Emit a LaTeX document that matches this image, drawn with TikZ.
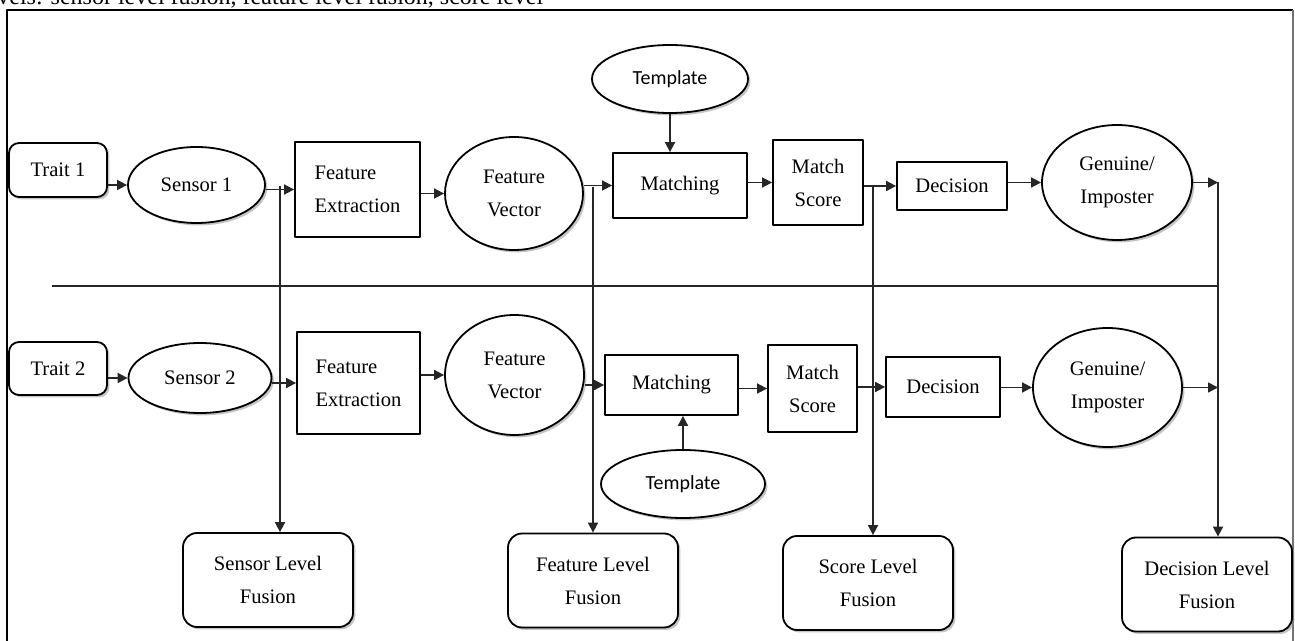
\documentclass[tikz,border=0pt]{standalone}
\usepackage{fontspec}
\setmainfont{Liberation Serif}
\newfontfamily\tplfont{Carlito}
\usetikzlibrary{shapes.geometric,shadows,arrows.meta}

\begin{document}
\begin{tikzpicture}[x=0.5pt,y=-0.5pt,font=\fontsize{10.3}{16.5}\selectfont,line join=round,
	>={Triangle[length=5pt,width=5pt]},
	wh/.style 2 args={minimum width=#1pt,minimum height=#2pt},
	bx/.style={draw,line width=0.9pt,inner sep=2pt,align=center,fill=white},
	shd/.style={drop shadow={shadow xshift=1.2pt,shadow yshift=-1.2pt,fill=black!45}},
	rbx/.style={bx,shd,rounded corners=5pt},
	fus/.style={bx,shd,rounded corners=7pt,wh={85}{47}},
	elp/.style={bx,shd,ellipse},
	tpl/.style={elp,font=\tplfont\fontsize{10}{12}\selectfont},
	ln/.style={line width=0.85pt,black!85},
	ar/.style={ln,->}]
	\useasboundingbox (0,0) rectangle (1295,641);
	\begin{scope}
	\clip (0,0) rectangle (1295,641);
	\node[anchor=base west,inner sep=0,font=\fontsize{12}{14}\selectfont](cap) at (-3,5)
	{vels: sensor level fusion, feature level fusion, score level};
	\end{scope}
	\draw[line width=1.1pt] (7,641)--(7,10)--(1293,10);
	\draw[line width=0.6pt,black!55] (1293,10)--(1293,641);
	% first trait
	\path (58,170)node[rbx,wh={49}{27}](t1){Trait 1}
	++(138.5,15)node[elp,wh={68.5}{38}](s1){Sensor 1}
	++(161,4.5)node[bx,wh={62.5}{47.5},align=left](fe1){Feature\\Extraction}
	++(156.5,4)node[elp,wh={69}{56.5}](fv1){Feature\\Vector}
	++(166,-8)node[bx,wh={67}{32.5}](m1){Matching}
	++(138,-3)node[bx,wh={45}{42.5}](ms1){Match\\Score}
	++(134,3.5)node[bx,wh={55}{24}](d1){Decision}
	++(165,-3.5)node[elp,wh={75}{57.5}](g1){Genuine/\\Imposter}
	(m1)++(-10,-106.5)node[tpl,wh={78}{34}](tp1){Template}
	;
	% second trait
	\path (58,368.5)node[rbx,wh={49}{26.5}](t2){Trait 2}
	++(142,9.5)node[elp,wh={71.5}{35}](s2){Sensor 2}
	++(158.5,5)node[bx,wh={61.5}{51},align=left](fe2){Feature\\Extraction}
	++(156,-8)node[elp,wh={69.5}{60}](fv2){Feature\\Vector}
	++(157,10)node[bx,wh={66.5}{30}](m2){Matching}
	++(141,3.5)node[bx,wh={44.5}{43.5}](ms2){Match\\Score}
	++(130.5,-1.5)node[bx,wh={57}{30}](d2){Decision}
	++(164.5,0.5)node[elp,wh={74.5}{59.5}](g2){Genuine/\\Imposter}
	(m2)++(11.5,99)node[tpl,wh={82}{34}](tp2){Template}
	;
	% fusion levels
	\path (268,580)node[fus](slf){Sensor Level\\Fusion}
	++(325,0.5)node[fus](flf){Feature Level\\Fusion}
	++(275,2.5)node[fus](sclf){Score Level\\Fusion}
	++(339,1.5)node[fus](dlf){Decision Level\\Fusion}
	;
	\coordinate (j1) at (280,186);
	\coordinate (j2) at (593,187);
	\coordinate (j3) at (873,187);
	\coordinate (j4) at (1218,182);
	\coordinate (sep) at (52,286);
	\draw[ln] (sep)--(sep-|j4);
	\draw[ar] (t1.east|-s1.west)--(s1.west);
	\draw[ar] (s1.east|-fe1.west)--(fe1.west);
	\draw[ar] (fe1.east|-fv1.west)--(fv1.west);
	\draw[ar] (fv1.east|-m1.west)--(m1.west);
	\draw[ar] (m1.east|-ms1.west)--(ms1.west);
	\draw[ar] (ms1.east|-d1.west)--(d1.west);
	\draw[ar] (d1.east|-g1.west)--(g1.west);
	\draw[ar] (g1.east)--(g1.east-|j4);
	\draw[ar] (tp1.south)--(tp1.south|-m1.north);
	\draw[ar] (t2.east|-s2.west)--(s2.west);
	\draw[ar] (s2.east|-fe2.west)--(fe2.west);
	\draw[ar] (fe2.east|-fv2.west)--(fv2.west);
	\draw[ar] (fv2.east|-m2.west)--(m2.west);
	\draw[ar] (m2.east|-ms2.west)--(ms2.west);
	\draw[ar] (ms2.east|-d2.west)--(d2.west);
	\draw[ar] (d2.east|-g2.west)--(g2.west);
	\draw[ar] (g2.east)--(g2.east-|j4);
	\draw[ar] (tp2.north)--(tp2.north|-m2.south);
	\draw[ar] (j1)--(j1|-slf.north);
	\draw[ar] (j2)--(j2|-flf.north);
	\draw[ar] (j3)--(j3|-sclf.north);
	\draw[ar] (j4)--(j4|-dlf.north);
\end{tikzpicture}
\end{document}
